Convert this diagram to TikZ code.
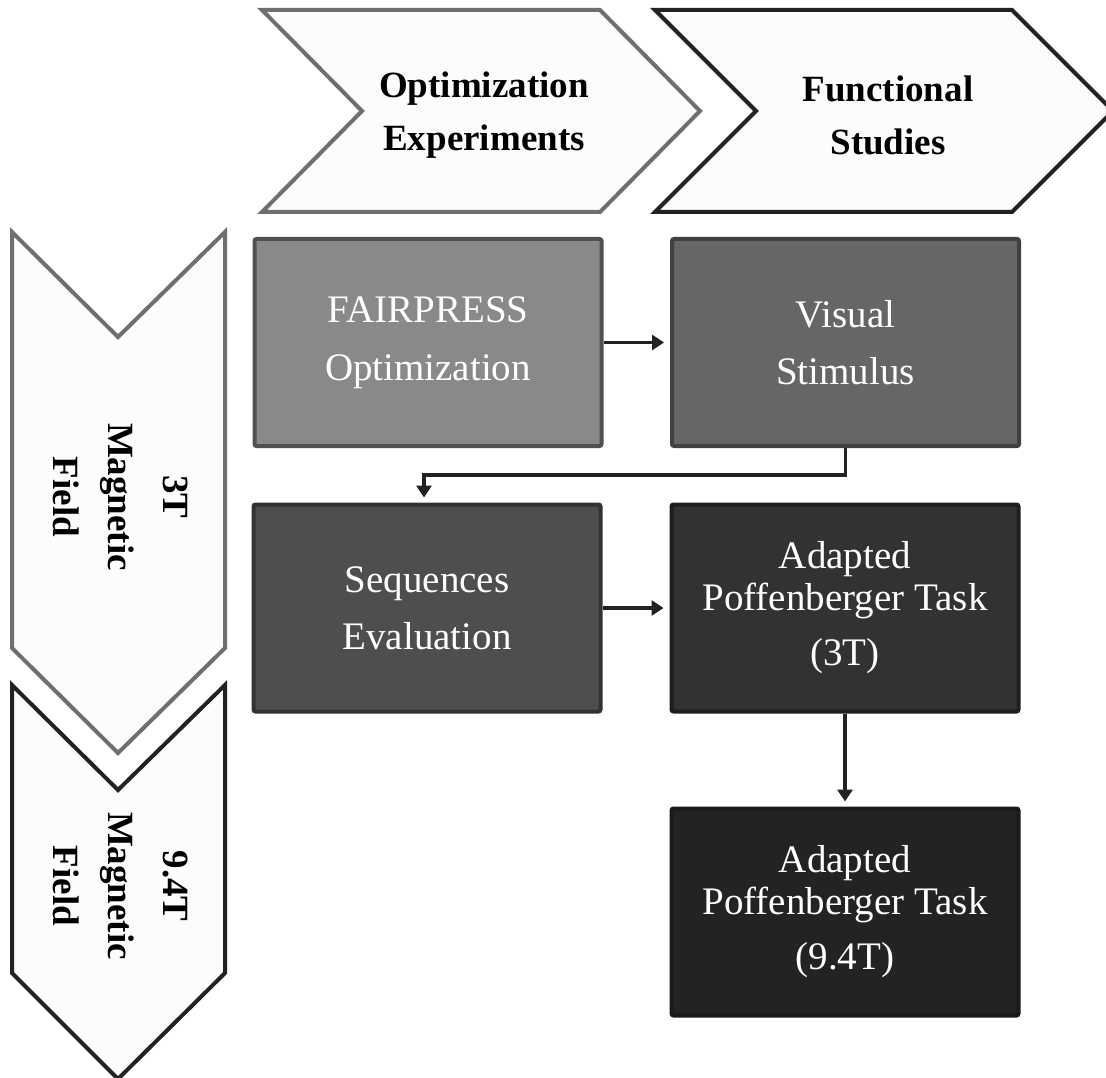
\documentclass[tikz,border=0pt]{standalone}
\usepackage{fontspec}
\setmainfont{Liberation Serif}
\usetikzlibrary{arrows.meta}
\definecolor{chevfill}{HTML}{FCFCFC}
\definecolor{chevgray}{HTML}{6F6F6F}
\definecolor{chevdark}{HTML}{222222}
\definecolor{fillA}{HTML}{898989}
\definecolor{drawA}{HTML}{505050}
\definecolor{fillB}{HTML}{666666}
\definecolor{drawB}{HTML}{404040}
\definecolor{fillC}{HTML}{4E4E4E}
\definecolor{drawC}{HTML}{333333}
\definecolor{fillD}{HTML}{323232}
\definecolor{drawD}{HTML}{1E1E1E}
\definecolor{fillE}{HTML}{232323}
\definecolor{drawE}{HTML}{1A1A1A}
\definecolor{arrowc}{HTML}{222222}
\begin{document}
\begin{tikzpicture}[x=1pt,y=-1pt,
  chev/.style={line width=4pt, fill=chevfill, line join=miter},
  box/.style={draw, line width=4pt, rounded corners=2pt, minimum width=347pt,
    minimum height=207pt, inner sep=0pt, align=center, text=white,
    font=\fontsize{39}{42}\selectfont},
  hdr/.style={font=\bfseries\fontsize{37}{53}\selectfont, align=center, inner sep=0pt},
  vtxt/.style={font=\bfseries\fontsize{37}{55}\selectfont, align=center, rotate=-90, inner sep=0pt},
  conn/.style={line width=3.5pt, draw=arrowc, -{Triangle[width=15pt,length=12pt]}}]
\useasboundingbox (0,0) rectangle (1106,1078);

% top chevrons
\draw[chev, draw=chevgray] (262,10) -- (600,10) -- (700,111) -- (600,212) -- (262,212) -- (362,111) -- cycle;
\draw[chev, draw=chevdark] (655,10) -- (1012,10) -- (1113,111) -- (1012,212) -- (655,212) -- (756,111) -- cycle;
\node[hdr] (hOpt) at (484,115) {Optimization\\Experiments};
\node[hdr] (hFun) at (888,115) {Functional\\Studies};

% side chevrons
\draw[chev, draw=chevgray] (12,232) -- (118,337) -- (225,232) -- (225,648) -- (118,753) -- (12,648) -- cycle;
\draw[chev, draw=chevdark] (12,685) -- (118,790) -- (225,685) -- (225,973) -- (118,1079) -- (12,973) -- cycle;
\node[vtxt] (v3) at (121,497) {3T\\Magnetic\\Field};
\node[vtxt] (v9) at (121,886) {9.4T\\Magnetic\\Field};

% boxes
\node[box, fill=fillA, draw=drawA] (b1) at (428,342.5) {FAIRPRESS\\[16pt]Optimization};
\node[box, fill=fillB, draw=drawB] (b2) at (845.5,342.5) {Visual\\[15pt]Stimulus};
\node[box, fill=fillC, draw=drawC] (b3) at (427,608) {Sequences\\[15pt]Evaluation};
\node[box, fill=fillD, draw=drawD] (b4) at (845,608) {Adapted\\Poffenberger Task\\[13pt](3T)};
\node[box, fill=fillE, draw=drawE] (b5) at (845,912) {Adapted\\Poffenberger Task\\[13pt](9.4T)};

% connectors
\draw[conn, shorten >=6pt] (b1) -- (b2);
\draw[conn, shorten >=5pt] (b2.south) -- ++(0,27) -| ([xshift=-3pt]b3.north);
\draw[conn, shorten >=6pt] (b3) -- (b4);
\draw[conn, shorten >=5pt] (b4) -- (b5);
\end{tikzpicture}
\end{document}
